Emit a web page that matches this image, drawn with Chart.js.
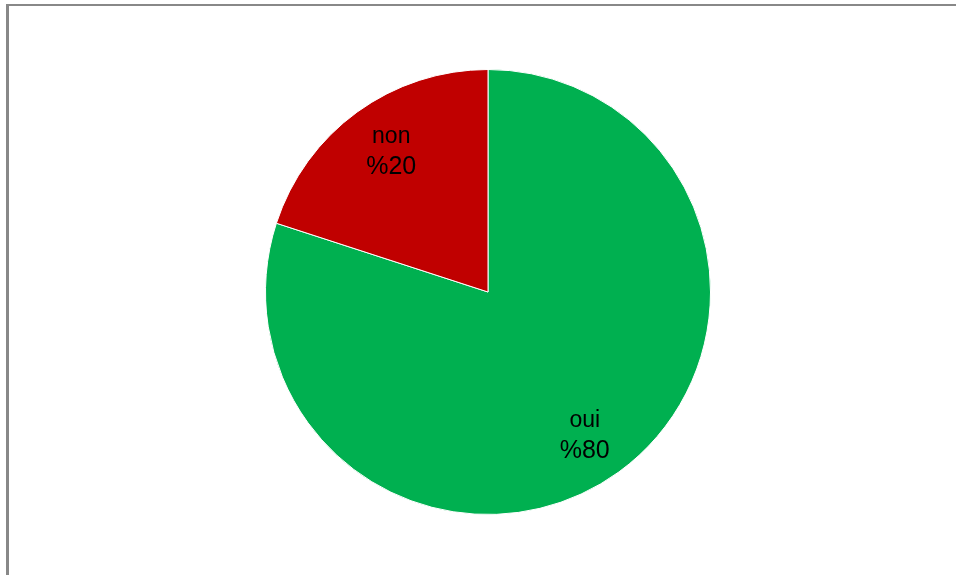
<!DOCTYPE html>
<html>
<head>
<meta charset="utf-8">
<script src="https://cdn.jsdelivr.net/npm/chart.js@4/dist/chart.umd.min.js"></script>
<style>
  html, body { margin: 0; padding: 0; background: #fff; overflow: hidden; }
  #frame {
    position: absolute; left: 6px; top: 4px; width: 1000px; height: 600px;
    border-top: 2px solid #888888; border-left: 3px solid #888888;
  }
  #wrap { position: absolute; left: 0; top: 0; width: 956px; height: 575px; }
</style>
</head>
<body>
<div id="frame"></div>
<div id="wrap"><canvas id="pie"></canvas></div>
<script>
// Data
const labels = ["oui", "non"];
const values = [80, 20];
const colours = ["#00B050", "#C00000"];

// Draws category name and "%value" inside each slice
const sliceLabels = {
  id: "sliceLabels",
  afterDatasetsDraw(chart) {
    const ctx = chart.ctx;
    const meta = chart.getDatasetMeta(0);
    meta.data.forEach((arc, i) => {
      const mid = (arc.startAngle + arc.endAngle) / 2 + 0.03;
      const r = arc.outerRadius * 0.772;
      const x = arc.x + Math.cos(mid) * r;
      const y = arc.y + Math.sin(mid) * r + 2.5;
      ctx.save();
      ctx.fillStyle = "#000";
      ctx.textAlign = "center";
      ctx.textBaseline = "middle";
      ctx.font = "23px 'Liberation Sans', Arial, sans-serif";
      ctx.fillText(labels[i], x, y - 16);
      ctx.font = "25px 'Liberation Sans', Arial, sans-serif";
      ctx.fillText("%" + values[i], x, y + 15);
      ctx.restore();
    });
  }
};

new Chart(document.getElementById("pie"), {
  type: "pie",
  data: {
    labels: labels,
    datasets: [{
      data: values,
      backgroundColor: colours,
      borderColor: "#ffffff",
      borderWidth: 1
    }]
  },
  options: {
    responsive: true,
    maintainAspectRatio: false,
    animation: false,
    layout: { padding: { left: 265, top: 69, right: 245, bottom: 60 } },
    plugins: {
      legend: { display: false },
      tooltip: { enabled: false }
    }
  },
  plugins: [sliceLabels]
});
</script>
</body>
</html>
